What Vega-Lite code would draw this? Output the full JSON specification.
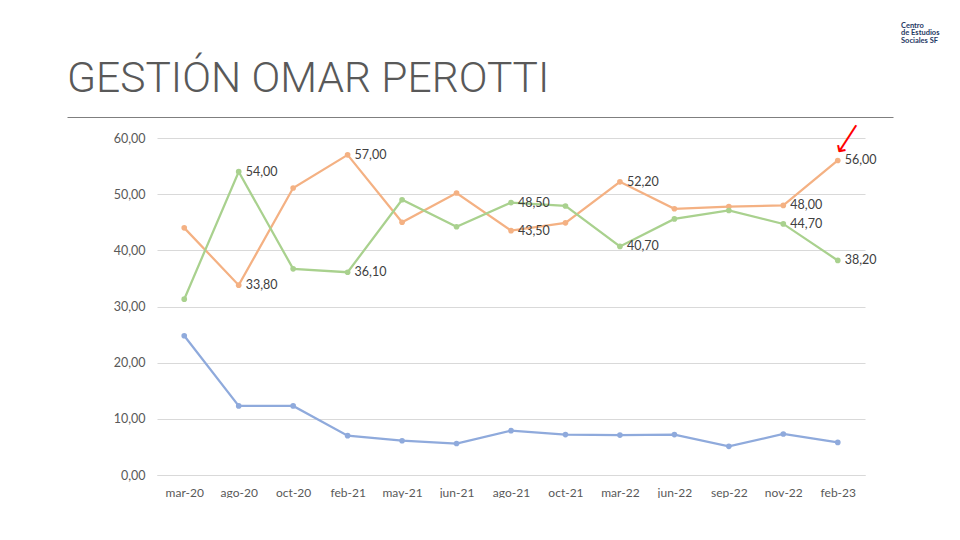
{
  "$schema": "https://vega.github.io/schema/vega-lite/v6.json",
  "background": "white",
  "padding": {"left": 67, "top": 21, "right": 0, "bottom": 0},
  "title": {
    "text": ["Centro", "de Estudios", "Sociales SF"],
    "anchor": "start",
    "align": "left",
    "orient": "top",
    "font": "Lato",
    "fontSize": 7.5,
    "fontWeight": "bold",
    "color": "#1F3864",
    "lineHeight": 7.5,
    "offset": 14,
    "dx": 834
  },
  "datasets": {
    "encuesta": [
      {"periodo": "mar-20", "serie": "Serie 1", "valor": 44.0},
      {"periodo": "ago-20", "serie": "Serie 1", "valor": 33.8},
      {"periodo": "oct-20", "serie": "Serie 1", "valor": 51.1},
      {"periodo": "feb-21", "serie": "Serie 1", "valor": 57.0},
      {"periodo": "may-21", "serie": "Serie 1", "valor": 45.0},
      {"periodo": "jun-21", "serie": "Serie 1", "valor": 50.2},
      {"periodo": "ago-21", "serie": "Serie 1", "valor": 43.5},
      {"periodo": "oct-21", "serie": "Serie 1", "valor": 44.9},
      {"periodo": "mar-22", "serie": "Serie 1", "valor": 52.2},
      {"periodo": "jun-22", "serie": "Serie 1", "valor": 47.4},
      {"periodo": "sep-22", "serie": "Serie 1", "valor": 47.8},
      {"periodo": "nov-22", "serie": "Serie 1", "valor": 48.0},
      {"periodo": "feb-23", "serie": "Serie 1", "valor": 56.0},
      {"periodo": "mar-20", "serie": "Serie 2", "valor": 31.3},
      {"periodo": "ago-20", "serie": "Serie 2", "valor": 54.0},
      {"periodo": "oct-20", "serie": "Serie 2", "valor": 36.7},
      {"periodo": "feb-21", "serie": "Serie 2", "valor": 36.1},
      {"periodo": "may-21", "serie": "Serie 2", "valor": 49.0},
      {"periodo": "jun-21", "serie": "Serie 2", "valor": 44.2},
      {"periodo": "ago-21", "serie": "Serie 2", "valor": 48.5},
      {"periodo": "oct-21", "serie": "Serie 2", "valor": 47.9},
      {"periodo": "mar-22", "serie": "Serie 2", "valor": 40.7},
      {"periodo": "jun-22", "serie": "Serie 2", "valor": 45.6},
      {"periodo": "sep-22", "serie": "Serie 2", "valor": 47.1},
      {"periodo": "nov-22", "serie": "Serie 2", "valor": 44.7},
      {"periodo": "feb-23", "serie": "Serie 2", "valor": 38.2},
      {"periodo": "mar-20", "serie": "Serie 3", "valor": 24.8},
      {"periodo": "ago-20", "serie": "Serie 3", "valor": 12.3},
      {"periodo": "oct-20", "serie": "Serie 3", "valor": 12.3},
      {"periodo": "feb-21", "serie": "Serie 3", "valor": 7.0},
      {"periodo": "may-21", "serie": "Serie 3", "valor": 6.1},
      {"periodo": "jun-21", "serie": "Serie 3", "valor": 5.6},
      {"periodo": "ago-21", "serie": "Serie 3", "valor": 7.9},
      {"periodo": "oct-21", "serie": "Serie 3", "valor": 7.2},
      {"periodo": "mar-22", "serie": "Serie 3", "valor": 7.1},
      {"periodo": "jun-22", "serie": "Serie 3", "valor": 7.2},
      {"periodo": "sep-22", "serie": "Serie 3", "valor": 5.1},
      {"periodo": "nov-22", "serie": "Serie 3", "valor": 7.3},
      {"periodo": "feb-23", "serie": "Serie 3", "valor": 5.8}
    ],
    "flecha": [{"periodo": "feb-23", "valor": 60}]
  },
  "align": "none",
  "spacing": -6,
  "vconcat": [
    {
      "width": 736,
      "height": 1,
      "view": {"stroke": null},
      "title": {
        "text": "GESTIÓN OMAR PEROTTI",
        "anchor": "start",
        "font": "Roboto",
        "fontWeight": 300,
        "fontSize": 42.5,
        "color": "#595959",
        "offset": 11,
        "dx": -90
      },
      "data": {"values": [{"t": "", "k": "separador"}]},
      "mark": {"type": "text"},
      "encoding": {
        "text": {"field": "t"},
        "x": {
          "field": "k",
          "type": "nominal",
          "scale": {"type": "point", "range": [-90, 736]},
          "axis": {"orient": "top", "title": null, "labels": false, "ticks": false, "grid": false, "domainColor": "#7F7F7F", "domainWidth": 1}
        }
      }
    },
    {
      "width": 708,
      "height": 337,
      "view": {"stroke": null},
      "data": {"name": "encuesta"},
      "encoding": {
        "x": {
          "field": "periodo",
          "type": "ordinal",
          "sort": null,
          "scale": {"type": "point", "padding": 0.5},
          "axis": {
            "title": null,
            "labelAngle": 0,
            "ticks": false,
            "grid": false,
            "domainColor": "#D9D9D9",
            "labelFont": "Lato",
            "labelFontSize": 12,
            "labelColor": "#595959",
            "labelPadding": 12
          }
        },
        "y": {
          "field": "valor",
          "type": "quantitative",
          "scale": {"domain": [0, 60], "nice": false},
          "axis": {
            "title": null,
            "values": [0, 10, 20, 30, 40, 50, 60],
            "format": ".2f",
            "domain": false,
            "ticks": false,
            "gridColor": "#D9D9D9",
            "labelFont": "Lato",
            "labelFontSize": 12.5,
            "labelColor": "#595959",
            "labelPadding": 12
          }
        },
        "color": {
          "field": "serie",
          "type": "nominal",
          "scale": {"domain": ["Serie 1", "Serie 2", "Serie 3"], "range": ["#F4B183", "#A9D18E", "#8FAADC"]},
          "legend": null
        }
      },
      "layer": [
        {"mark": {"type": "line", "strokeWidth": 2.25}},
        {"mark": {"type": "point", "filled": true, "opacity": 1, "size": 32}},
        {
          "transform": [
            {"filter": "datum.serie != 'Serie 3' && indexof(['ago-20','feb-21','ago-21','mar-22','nov-22','feb-23'], datum.periodo) >= 0"}
          ],
          "mark": {"type": "text", "align": "left", "baseline": "middle", "dx": 7, "font": "Lato", "fontSize": 12.5, "color": "#404040"},
          "encoding": {
            "text": {"field": "valor", "type": "quantitative", "format": ".2f"},
            "color": {"value": "#404040"}
          }
        },
        {
          "data": {"name": "flecha"},
          "mark": {"type": "text", "text": "⟶", "font": "DejaVu Sans", "fontSize": 24, "color": "#FF0000", "angle": 123, "align": "center", "baseline": "middle", "dx": -5, "dy": -8},
          "encoding": {"color": {"value": "#FF0000"}}
        }
      ]
    }
  ],
  "config": {
    "locale": {"number": {"decimal": ",", "thousands": ".", "grouping": [3], "currency": ["", " €"]}}
  }
}
